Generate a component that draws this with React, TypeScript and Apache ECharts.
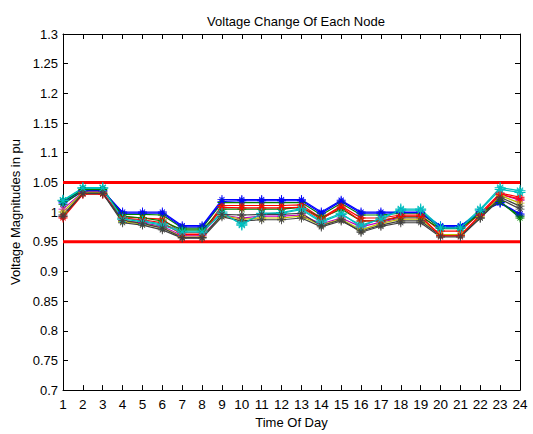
import React, { useEffect, useRef } from "react";
import * as echarts from "echarts";

const hours = [1,2,3,4,5,6,7,8,9,10,11,12,13,14,15,16,17,18,19,20,21,22,23,24];
const upperLimit = 1.05;
const lowerLimit = 0.95;

const blue1 = [1.015,1.035,1.035,1.000,1.000,1.000,0.977,0.977,1.021,1.021,1.021,1.021,1.021,1.000,1.020,1.000,1.000,1.000,1.000,0.977,0.977,1.000,1.015,0.995];
const green1 = [1.013,1.036,1.036,0.996,0.996,0.995,0.973,0.973,1.016,1.016,1.016,1.016,1.016,0.995,1.015,0.995,0.995,0.998,0.998,0.973,0.973,1.000,1.017,0.993];
const red1 = [0.990,1.030,1.030,0.992,0.990,0.988,0.965,0.965,1.011,1.011,1.011,1.011,1.012,0.990,1.010,0.990,0.990,0.995,0.995,0.968,0.968,0.998,1.032,1.025];
const cyan1 = [1.020,1.041,1.041,0.990,0.985,0.980,0.968,0.968,1.000,0.978,0.998,0.999,1.006,0.985,0.998,0.975,0.990,1.005,1.005,0.975,0.975,1.005,1.041,1.036];
const magenta1 = [1.005,1.034,1.034,0.985,0.982,0.976,0.960,0.960,0.995,0.990,0.993,0.993,0.995,0.980,0.990,0.975,0.983,0.990,0.990,0.962,0.962,0.994,1.030,1.020];
const olive1 = [1.000,1.033,1.033,0.984,0.980,0.974,0.958,0.958,0.994,0.988,0.990,0.990,0.993,0.978,0.988,0.970,0.981,0.988,0.988,0.962,0.962,0.992,1.028,1.015];
const gray1 = [0.995,1.032,1.032,0.982,0.978,0.970,0.956,0.956,0.992,0.985,0.987,0.987,0.990,0.975,0.985,0.968,0.978,0.985,0.985,0.960,0.960,0.990,1.025,1.010];
const blue2 = [1.017,1.037,1.037,0.998,0.998,0.998,0.975,0.975,1.018,1.019,1.019,1.019,1.019,0.998,1.018,0.998,0.998,0.999,0.999,0.975,0.975,1.000,1.016,0.997];
const green2 = [1.018,1.038,1.038,0.993,0.990,0.985,0.970,0.970,1.005,1.005,1.005,1.005,1.008,0.990,1.005,0.985,0.985,0.992,0.992,0.972,0.972,0.998,1.018,0.990];
const red2 = [0.992,1.031,1.031,0.990,0.987,0.982,0.962,0.962,1.008,1.007,1.007,1.007,1.008,0.988,1.008,0.985,0.985,0.993,0.993,0.960,0.960,0.995,1.030,1.022];
const cyan2 = [1.019,1.040,1.040,0.988,0.984,0.978,0.966,0.966,0.998,0.980,0.997,0.998,1.004,0.983,0.996,0.978,0.988,1.003,1.003,0.973,0.973,1.003,1.038,1.033];
const gray2 = [0.993,1.031,1.031,0.986,0.981,0.973,0.957,0.957,0.996,0.995,0.996,0.996,0.998,0.977,0.987,0.966,0.976,0.982,0.982,0.958,0.958,0.990,1.022,1.005];

const yTicks = ["0.7","0.75","0.8","0.85","0.9","0.95","1","1.05","1.1","1.15","1.2","1.25","1.3"];

const nodeSeries = [
  { name: "N1", values: blue1, color: "#0000ff" },
  { name: "N2", values: green1, color: "#008000" },
  { name: "N3", values: red1, color: "#ff0000" },
  { name: "N4", values: cyan1, color: "#00bfbf" },
  { name: "N5", values: magenta1, color: "#bf00bf" },
  { name: "N6", values: olive1, color: "#bfbf00" },
  { name: "N7", values: gray1, color: "#404040" },
  { name: "N8", values: blue2, color: "#0000ff" },
  { name: "N9", values: green2, color: "#008000" },
  { name: "N10", values: red2, color: "#ff0000" },
  { name: "N11", values: cyan2, color: "#00bfbf" },
  { name: "N12", values: gray2, color: "#404040" },
];

const asterisk =
  "path://M-0.5,-5L0.5,-5L0.5,5L-0.5,5Z M5,-0.5L5,0.5L-5,0.5L-5,-0.5Z M3.18,2.47L2.47,3.18L-3.18,-2.47L-2.47,-3.18Z M2.47,-3.18L3.18,-2.47L-2.47,3.18L-3.18,2.47Z";

const FONT = "'Liberation Sans', Arial, sans-serif";

export default function App() {
  const ref = useRef<HTMLDivElement>(null);
  useEffect(() => {
    document.body.style.margin = "0";
    if (!ref.current) return;
    const chart = echarts.init(ref.current, null, { renderer: "svg" });
    const fmt = (v: number) => String(+v.toFixed(2));
    const tickLabel = (v: number) => {
      const s = fmt(v);
      return yTicks.includes(s) ? s : "";
    };
    const series: any[] = [
      {
        type: "line",
        name: "upper",
        data: [[hours[0], upperLimit], [hours[hours.length - 1], upperLimit]],
        symbol: "none",
        lineStyle: { color: "#ff0000", width: 3 },
        z: 1,
      },
      {
        type: "line",
        name: "lower",
        data: [[hours[0], lowerLimit], [hours[hours.length - 1], lowerLimit]],
        symbol: "none",
        lineStyle: { color: "#ff0000", width: 3 },
        z: 1,
      },
      ...nodeSeries.map((s) => ({
        type: "line",
        name: s.name,
        data: hours.map((h, i) => [h, s.values[i]]),
        symbol: asterisk,
        symbolSize: s.color === "#00bfbf" ? 11 : 9,
        showSymbol: true,
        lineStyle: { color: s.color, width: 1.2 },
        itemStyle: { color: s.color },
        z: 2,
      })),
    ];
    chart.setOption({
      animation: false,
      backgroundColor: "#ffffff",
      title: {
        text: "Voltage Change Of Each Node",
        left: 291,
        textAlign: "center",
        top: 10,
        textStyle: { fontFamily: FONT, fontSize: 13, fontWeight: "normal", color: "#000" },
      },
      grid: { left: 63, right: 13, top: 34, bottom: 36, containLabel: false },
      xAxis: [
        {
          type: "value",
          min: 1,
          max: 24,
          interval: 1,
          name: "Time Of Day",
          nameLocation: "middle",
          nameGap: 23,
          nameTextStyle: { fontFamily: FONT, fontSize: 13, color: "#000" },
          axisLine: { lineStyle: { color: "#000", width: 1 } },
          axisTick: { inside: true, length: 5, lineStyle: { color: "#000" } },
          axisLabel: { fontFamily: FONT, fontSize: 13.5, color: "#000", margin: 7 },
          splitLine: { show: false },
        },
        {
          type: "value",
          position: "top",
          min: 1,
          max: 24,
          interval: 1,
          axisLine: { show: true, lineStyle: { color: "#000", width: 1 } },
          axisTick: { inside: true, length: 5, lineStyle: { color: "#000" } },
          axisLabel: { show: false },
          splitLine: { show: false },
        },
      ],
      yAxis: [
        {
          type: "value",
          min: 0.7,
          max: 1.3,
          interval: 0.05,
          name: "Voltage Magnitudes in pu",
          nameLocation: "middle",
          nameGap: 35,
          nameTextStyle: { fontFamily: FONT, fontSize: 13, color: "#000" },
          axisLine: { show: true, lineStyle: { color: "#000", width: 1 } },
          axisTick: { show: true, inside: true, length: 5, lineStyle: { color: "#000" } },
          axisLabel: { fontFamily: FONT, fontSize: 13, color: "#000", margin: 5, formatter: tickLabel },
          splitLine: { show: false },
        },
        {
          type: "value",
          position: "right",
          min: 0.7,
          max: 1.3,
          interval: 0.05,
          axisLine: { show: true, lineStyle: { color: "#000", width: 1 } },
          axisTick: { show: true, inside: true, length: 5, lineStyle: { color: "#000" } },
          axisLabel: { show: false },
          splitLine: { show: false },
        },
      ],
      series,
    });
    return () => chart.dispose();
  }, []);
  return <div ref={ref} style={{ width: 533, height: 434 }} />;
}
